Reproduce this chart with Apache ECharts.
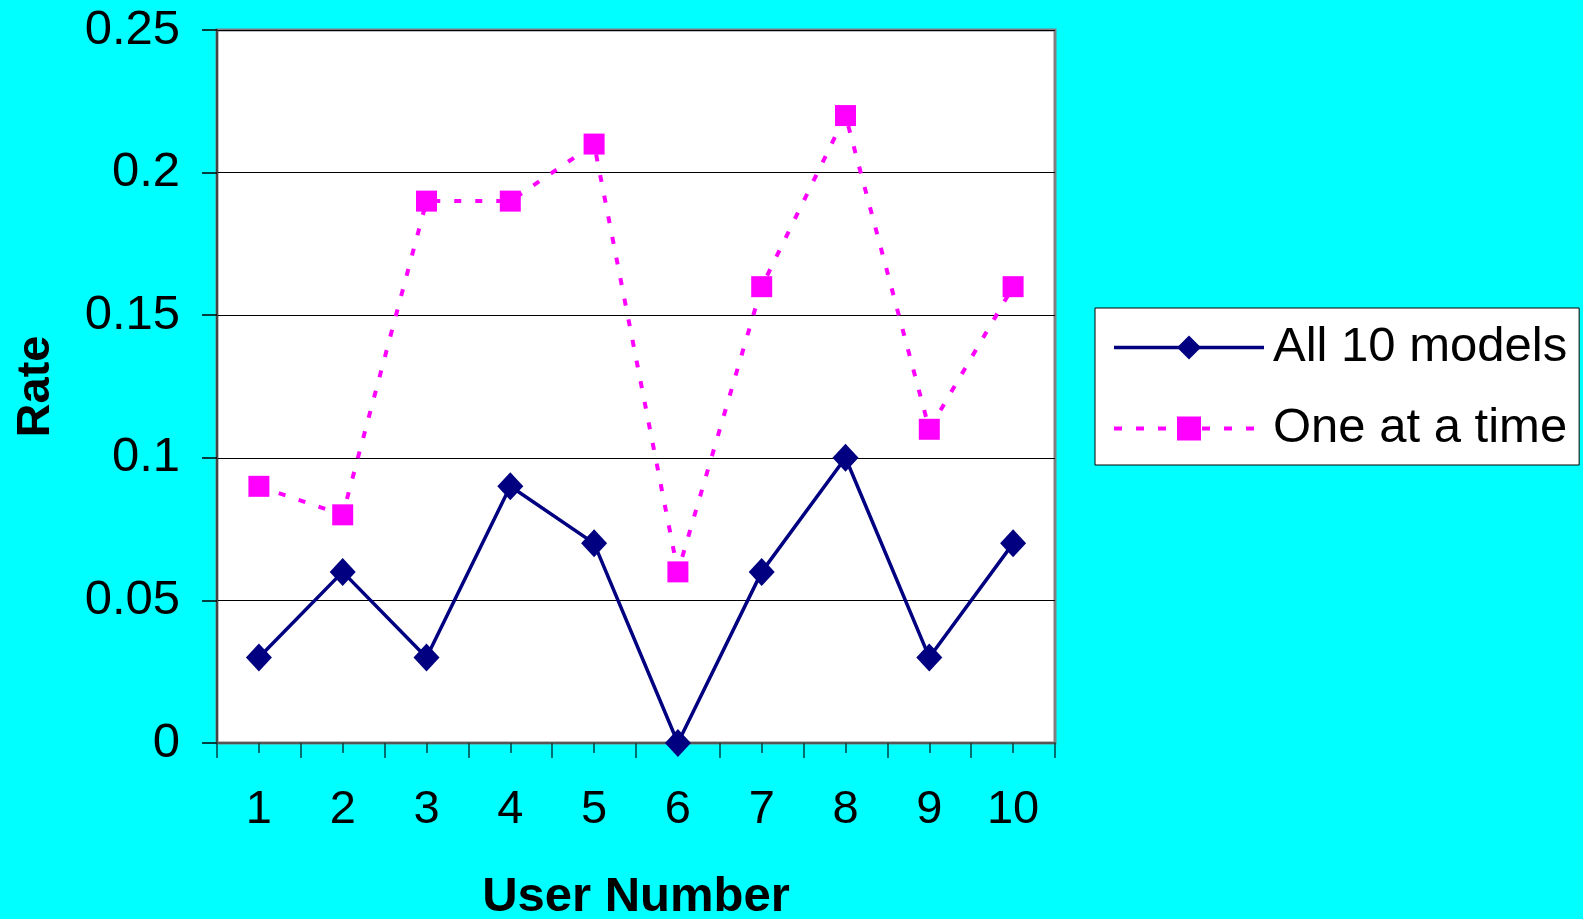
<!DOCTYPE html>
<html><head><meta charset="utf-8">
<script src="https://cdn.jsdelivr.net/npm/echarts@6/dist/echarts.min.js"></script>
<style>html,body{margin:0;padding:0;background:#00FFFF;}#c{width:1583px;height:919px;}</style>
</head><body><div id="c"></div>
<script>
const categories = ['1','2','3','4','5','6','7','8','9','10'];
const allModels = [0.03, 0.06, 0.03, 0.09, 0.07, 0, 0.06, 0.1, 0.03, 0.07];
const oneAtATime = [0.09, 0.08, 0.19, 0.19, 0.21, 0.06, 0.16, 0.22, 0.11, 0.16];
const seriesNames = ['All 10 models', 'One at a time'];
const FONT = '"Liberation Sans", Arial, sans-serif';

const chart = echarts.init(document.getElementById('c'));
chart.setOption({
  backgroundColor: '#00FFFF',
  animation: false,
  textStyle: { fontFamily: FONT },
  grid: { left: 217, top: 30, right: 528, bottom: 176, show: true, backgroundColor: '#FFFFFF', borderColor: '#808080', borderWidth: 3, outerBoundsMode: 'none', containLabel: false },
  legend: {
    left: 1095, top: 308, orient: 'vertical',
    backgroundColor: '#FFFFFF', borderColor: '#000000', borderWidth: 1,
    padding: [15, 12, 12, 17],
    itemWidth: 150, itemHeight: 30, itemGap: 32,
    textStyle: { fontSize: 49, color: '#000', fontFamily: FONT, padding: [0, 0, 0, 4] },
    data: [
      { name: seriesNames[0], lineStyle: { width: 3.5 } },
      { name: seriesNames[1], lineStyle: { width: 4, type: [8, 14] } }
    ]
  },
  xAxis: [{
    type: 'category', data: categories, boundaryGap: true,
    name: 'User Number', nameLocation: 'middle', nameGap: 130,
    nameTextStyle: { fontSize: 49, fontWeight: 'bold', color: '#000', fontFamily: FONT },
    axisLine: { lineStyle: { color: '#555555', width: 2 } },
    axisTick: { show: true, length: 15, lineStyle: { color: '#004040', width: 1.5 } },
    axisLabel: { fontSize: 47, color: '#000', margin: 44, fontFamily: FONT },
    splitLine: { show: false }
  }, {
    type: 'category', data: categories, boundaryGap: true, position: 'bottom',
    axisLine: { show: false },
    axisTick: { show: true, alignWithLabel: true, length: 10, lineStyle: { color: '#004040', width: 1.5 } },
    axisLabel: { show: false }, splitLine: { show: false }
  }],
  yAxis: {
    type: 'value', min: 0, max: 0.25, interval: 0.05,
    name: 'Rate', nameLocation: 'middle', nameGap: 157, nameRotate: 90,
    nameTextStyle: { fontSize: 47, fontWeight: 'bold', color: '#000', fontFamily: FONT },
    axisLine: { show: true, lineStyle: { color: '#444444', width: 2 } },
    axisTick: { show: true, length: 15, lineStyle: { color: '#000', width: 1.5 } },
    axisLabel: { fontSize: 49, color: '#000', margin: 37, fontFamily: FONT, formatter: v => String(+v.toFixed(2)) },
    splitLine: { show: true, lineStyle: { color: '#000000', width: 1 } }
  },
  series: [{
    name: seriesNames[0], type: 'line', data: allModels,
    symbol: 'diamond', symbolSize: [26, 28],
    itemStyle: { color: '#000080' },
    lineStyle: { color: '#000080', width: 3.5 },
    z: 3
  }, {
    name: seriesNames[1], type: 'line', data: oneAtATime,
    symbol: 'rect', symbolSize: 21,
    itemStyle: { color: '#FF00FF' },
    lineStyle: { color: '#FF00FF', width: 4, type: [7, 14] },
    z: 2
  }]
});
</script></body></html>
